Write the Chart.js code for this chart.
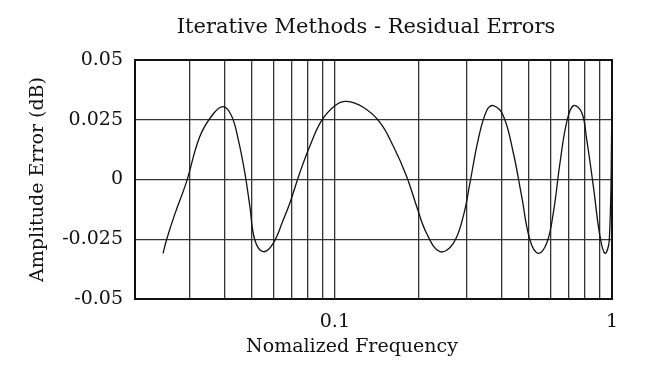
<!DOCTYPE html>
<html>
<head>
<meta charset="utf-8">
<script src="https://cdn.jsdelivr.net/npm/chart.js@4.4.1/dist/chart.umd.min.js"></script>
<style>
  html, body { margin: 0; padding: 0; background: #fff; }
  #wrap { width: 662px; height: 388px; }
</style>
</head>
<body>
<div id="wrap"><canvas id="chart"></canvas></div>
<script>
// normalized frequency (log axis) and residual amplitude error in dB
const freq = [0.02399, 0.02468, 0.02645, 0.02914, 0.03256, 0.03636, 0.03952, 0.04236, 0.04477,
  0.04733, 0.04933, 0.05143, 0.05511, 0.05989, 0.0651, 0.06881, 0.07473, 0.08124, 0.08952,
  0.1, 0.1102, 0.1266, 0.1454, 0.1624, 0.1814, 0.1972, 0.2142, 0.2394, 0.2675,
  0.2906, 0.3072, 0.3293, 0.3528, 0.3729, 0.4052, 0.4404, 0.472, 0.5058, 0.5421,
  0.581, 0.6141, 0.6492, 0.6861, 0.7252, 0.7771, 0.81, 0.8563, 0.9053, 0.9435,
  0.9779, 1.0];
const ampErr = [-0.0309, -0.0253, -0.0145, -0.001, 0.018, 0.0274, 0.0305, 0.0267, 0.0169,
  0.0028, -0.0112, -0.0253, -0.0302, -0.0267, -0.0169, -0.0098, 0.0028, 0.014, 0.0246,
  0.0309, 0.0327, 0.0302, 0.0239, 0.014, 0.0014, -0.0112, -0.0225, -0.0302, -0.0267,
  -0.0154, -0.0014, 0.0169, 0.0288, 0.0309, 0.0267, 0.0112, -0.007, -0.0253, -0.0309,
  -0.0267, -0.014, 0.007, 0.0239, 0.0309, 0.0281, 0.0169, -0.0028, -0.0239, -0.0309,
  -0.0253, 0.0295];

const xTicks = [0.03, 0.04, 0.05, 0.06, 0.07, 0.08, 0.09, 0.1,
  0.2, 0.3, 0.4, 0.5, 0.6, 0.7, 0.8, 0.9, 1];
const xLabeled = [0.1, 1];
const yTicks = [-0.05, -0.025, 0, 0.025, 0.05];
const yTickLabels = ["-0.05", "-0.025", "0", "0.025", "0.05"];

const titleText = "Iterative Methods - Residual Errors";
const xTitle = "Nomalized Frequency";
const yTitle = "Amplitude Error (dB)";

const FONT = "'DejaVu Serif', 'Liberation Serif', serif";
const INK = "#111";

const frame = {
  id: "frame",
  afterDatasetsDraw(chart) {
    const a = chart.chartArea;
    const ctx = chart.ctx;
    ctx.save();
    ctx.strokeStyle = INK;
    ctx.lineWidth = 2;
    ctx.strokeRect(a.left, a.top, a.right - a.left, a.bottom - a.top);
    ctx.fillStyle = INK;
    ctx.textAlign = "center";
    ctx.textBaseline = "middle";
    ctx.font = "21px " + FONT;
    ctx.fillText(titleText, 366, 28);
    ctx.font = "19px " + FONT;
    ctx.fillText(xTitle, 352, 347);
    ctx.restore();
  }
};

const points = freq.map((f, i) => ({ x: f, y: ampErr[i] }));

new Chart(document.getElementById("chart"), {
  type: "line",
  data: {
    datasets: [{
      data: points,
      borderColor: INK,
      borderWidth: 1.3,
      pointRadius: 0,
      tension: 0.4,
      fill: false
    }]
  },
  options: {
    responsive: true,
    maintainAspectRatio: false,
    animation: false,
    layout: { padding: { left: 0, right: 50, top: 60, bottom: 0 } },
    plugins: { legend: { display: false }, tooltip: { enabled: false } },
    scales: {
      x: {
        type: "logarithmic",
        min: 0.019,
        max: 1,
        afterBuildTicks(axis) { axis.ticks = xTicks.map(v => ({ value: v })); },
        afterFit(axis) { axis.height = 89; },
        grid: { color: "#333", lineWidth: 1.3, drawTicks: false },
        border: { display: false },
        ticks: {
          autoSkip: false,
          maxRotation: 0,
          padding: 12,
          color: INK,
          font: { family: FONT, size: 19 },
          callback: (v) => xLabeled.includes(v) ? String(v) : ""
        }
      },
      y: {
        min: -0.05,
        max: 0.05,
        afterBuildTicks(axis) { axis.ticks = yTicks.map(v => ({ value: v })); },
        afterFit(axis) { axis.width = 135; },
        grid: { color: "#333", lineWidth: 1.3, drawTicks: false },
        border: { display: false },
        ticks: {
          padding: 12,
          color: INK,
          font: { family: FONT, size: 19 },
          callback: (v) => yTickLabels[yTicks.indexOf(v)]
        },
        title: {
          display: true,
          text: yTitle,
          color: INK,
          font: { family: FONT, size: 19 },
          padding: { top: 27, bottom: 0 }
        }
      }
    }
  },
  plugins: [frame]
});
</script>
</body>
</html>
